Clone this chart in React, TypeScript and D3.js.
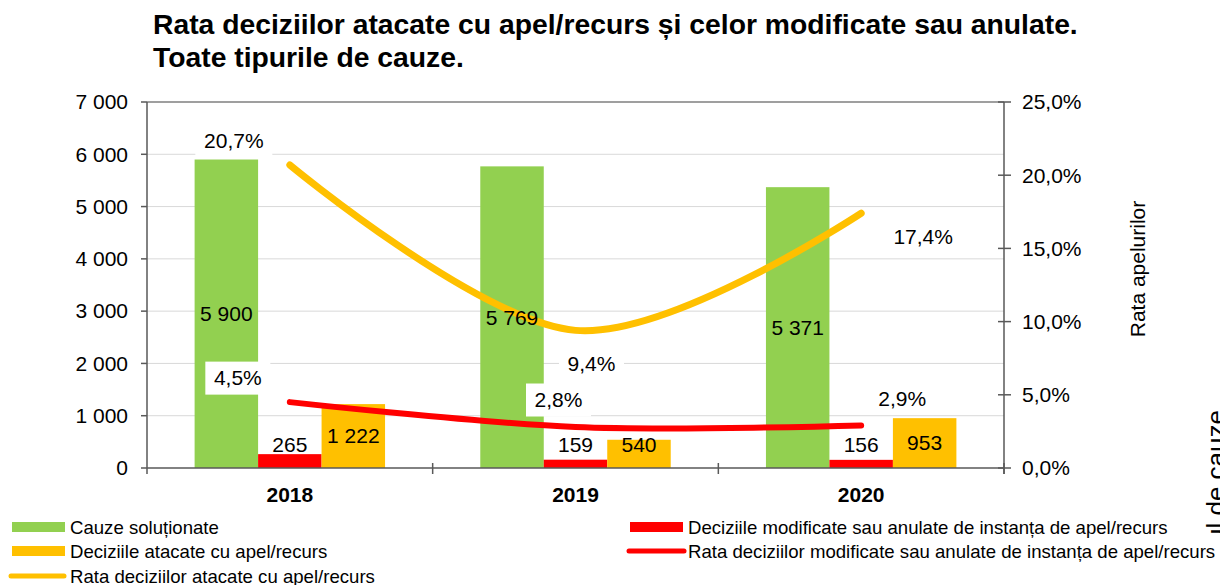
import * as d3 from "d3";

// values
const years = ["2018", "2019", "2020"];
const cauzeSolutionate = [5900, 5769, 5371];
const deciziiModificate = [265, 159, 156];
const deciziiAtacate = [1222, 540, 953];
const rataAtacate = [20.7, 9.4, 17.4];
const rataModificate = [4.5, 2.8, 2.9];
const leftTicks = [0, 1000, 2000, 3000, 4000, 5000, 6000, 7000];
const rightTicks = [0, 5, 10, 15, 20, 25];

// where the percentage labels sit relative to their point (px)
const offAtacate = [[-56, -24], [16, 33], [62, 23]];
const offModificate = [[-52, -24], [-17, -27], [41, -27]];

const GREEN = "#92D050";
const RED = "#FF0000";
const ORANGE = "#FFC000";
const FONT = "'Liberation Sans', Arial, sans-serif";

const loc = d3.formatLocale({ decimal: ",", thousands: " ", grouping: [3], currency: ["", ""] });
const fmtNum = loc.format(",");
const fmtPct = (v: number) => loc.format(".1f")(v) + "%";

export default function App() {
  const width = 1220, height = 585;
  const left = 147, right = 1004, top = 102, bottom = 468;

  const x = d3.scaleBand().domain(years).range([left, right]);
  const inner = d3.scaleBand().domain(["s", "m", "a"]).range([0, x.bandwidth()]).paddingInner(0).paddingOuter(0.75);
  const y = d3.scaleLinear().domain([0, 7000]).range([bottom, top]);
  const y2 = d3.scaleLinear().domain([0, 25]).range([bottom, top]);

  const cx = (yr: string) => (x(yr) as number) + x.bandwidth() / 2;
  const line = d3.line<number>()
    .x((_, i) => cx(years[i]))
    .y((d) => y2(d))
    .curve(d3.curveCardinal.tension(0));

  const bw = inner.bandwidth();
  const labelBox = (txt: string, px: number, py: number, key: string) => {
    const w = txt.length * 12 + 17;
    return (
      <g key={key}>
        <rect x={px - w / 2} y={py - 16.5} width={w} height={33} fill="#fff" />
        <text x={px} y={py} dy="0.35em" textAnchor="middle" fontSize={21} fill="#000">{txt}</text>
      </g>
    );
  };

  return (
    <svg width={width} height={height} style={{ position: "absolute", left: 0, top: 0, background: "#fff" }} fontFamily={FONT}>
      <defs>
        <clipPath id="clipTitle"><rect x={1150} y={0} width={80} height={537} /></clipPath>
      </defs>

      {/* title */}
      <text x={153} y={34} fontSize={28.3} fontWeight="bold">Rata deciziilor atacate cu apel/recurs și celor modificate sau anulate.</text>
      <text x={153} y={67} fontSize={28.3} fontWeight="bold">Toate tipurile de cauze.</text>

      {/* gridlines */}
      {leftTicks.slice(1, -1).map((t) => (
        <line key={t} x1={left} x2={right} y1={y(t)} y2={y(t)} stroke="#d9d9d9" strokeWidth={1} />
      ))}
      <line x1={left} x2={right} y1={top} y2={top} stroke="#7f7f7f" strokeWidth={1.5} />

      {/* bars */}
      {years.map((yr, i) => {
        const x0 = x(yr) as number;
        return (
          <g key={yr}>
            <rect x={x0 + (inner("s") as number)} y={y(cauzeSolutionate[i])} width={bw} height={bottom - y(cauzeSolutionate[i])} fill={GREEN} />
            <rect x={x0 + (inner("m") as number)} y={y(deciziiModificate[i])} width={bw} height={bottom - y(deciziiModificate[i])} fill={RED} />
            <rect x={x0 + (inner("a") as number)} y={y(deciziiAtacate[i])} width={bw} height={bottom - y(deciziiAtacate[i])} fill={ORANGE} />
          </g>
        );
      })}

      {/* axes */}
      <line x1={left} x2={left} y1={top} y2={bottom + 6} stroke="#595959" strokeWidth={1.5} />
      <line x1={right} x2={right} y1={top} y2={bottom + 6} stroke="#595959" strokeWidth={1.5} />
      <line x1={left} x2={right} y1={bottom} y2={bottom} stroke="#595959" strokeWidth={1.5} />
      {leftTicks.map((t) => (
        <g key={t}>
          <line x1={left - 6} x2={left} y1={y(t)} y2={y(t)} stroke="#595959" strokeWidth={1.5} />
          <text x={128} y={y(t)} dy="0.35em" textAnchor="end" fontSize={21}>{fmtNum(t)}</text>
        </g>
      ))}
      {rightTicks.map((t) => (
        <g key={t}>
          <line x1={right - 6} x2={right + 7} y1={y2(t)} y2={y2(t)} stroke="#595959" strokeWidth={1.5} />
          <text x={1022} y={y2(t)} dy="0.35em" fontSize={21}>{fmtPct(t)}</text>
        </g>
      ))}
      {years.map((yr) => (
        <line key={yr} x1={(x(yr) as number) + x.bandwidth()} x2={(x(yr) as number) + x.bandwidth()} y1={bottom - 5} y2={bottom + 6} stroke="#595959" strokeWidth={1.5} />
      ))}
      {years.map((yr) => (
        <text key={yr} x={cx(yr)} y={502} textAnchor="middle" fontSize={21} fontWeight="bold">{yr}</text>
      ))}

      {/* axis titles */}
      <text transform="translate(1145,269) rotate(-90)" textAnchor="middle" fontSize={21}>Rata apelurilor</text>
      <g clipPath="url(#clipTitle)">
        <text transform="translate(1225,410) rotate(-90)" textAnchor="end" fontSize={26}>Numărul de cauze</text>
      </g>

      {/* lines */}
      <path d={line(rataAtacate) || ""} fill="none" stroke={ORANGE} strokeWidth={7} strokeLinecap="round" />
      <path d={line(rataModificate) || ""} fill="none" stroke={RED} strokeWidth={6} strokeLinecap="round" />

      {/* bar labels */}
      {years.map((yr, i) => {
        const x0 = x(yr) as number;
        const ms = (bottom + y(cauzeSolutionate[i])) / 2;
        const mm = Math.min(y(deciziiModificate[i]) - 9, 445);
        const ma = Math.min((bottom + y(deciziiAtacate[i])) / 2, 445);
        return (
          <g key={yr} fontSize={21} textAnchor="middle">
            <text x={x0 + (inner("s") as number) + bw / 2} y={ms} dy="0.35em">{fmtNum(cauzeSolutionate[i])}</text>
            <text x={x0 + (inner("m") as number) + bw / 2} y={mm} dy="0.35em">{fmtNum(deciziiModificate[i])}</text>
            <text x={x0 + (inner("a") as number) + bw / 2} y={ma} dy="0.35em">{fmtNum(deciziiAtacate[i])}</text>
          </g>
        );
      })}

      {/* percentage labels */}
      {rataAtacate.map((v, i) => labelBox(fmtPct(v), cx(years[i]) + offAtacate[i][0], y2(v) + offAtacate[i][1], "a" + i))}
      {rataModificate.map((v, i) => labelBox(fmtPct(v), cx(years[i]) + offModificate[i][0], y2(v) + offModificate[i][1], "m" + i))}

      {/* legend */}
      <g fontSize={18.6}>
        <rect x={12} y={522} width={53} height={10} fill={GREEN} />
        <text x={70} y={527} dy="0.35em">Cauze soluționate</text>
        <rect x={12} y={546} width={53} height={10} fill={ORANGE} />
        <text x={70} y={551} dy="0.35em">Deciziile atacate cu apel/recurs</text>
        <line x1={11} x2={64} y1={576} y2={576} stroke={ORANGE} strokeWidth={5} strokeLinecap="round" />
        <text x={70} y={576} dy="0.35em">Rata deciziilor atacate cu apel/recurs</text>

        <rect x={630} y={522} width={53} height={10} fill={RED} />
        <text x={688} y={527} dy="0.35em">Deciziile modificate sau anulate de instanța de apel/recurs</text>
        <line x1={629} x2={684} y1={551} y2={551} stroke={RED} strokeWidth={5} strokeLinecap="round" />
        <text x={688} y={551} dy="0.35em">Rata deciziilor modificate sau anulate de instanța de apel/recurs</text>
      </g>
    </svg>
  );
}
